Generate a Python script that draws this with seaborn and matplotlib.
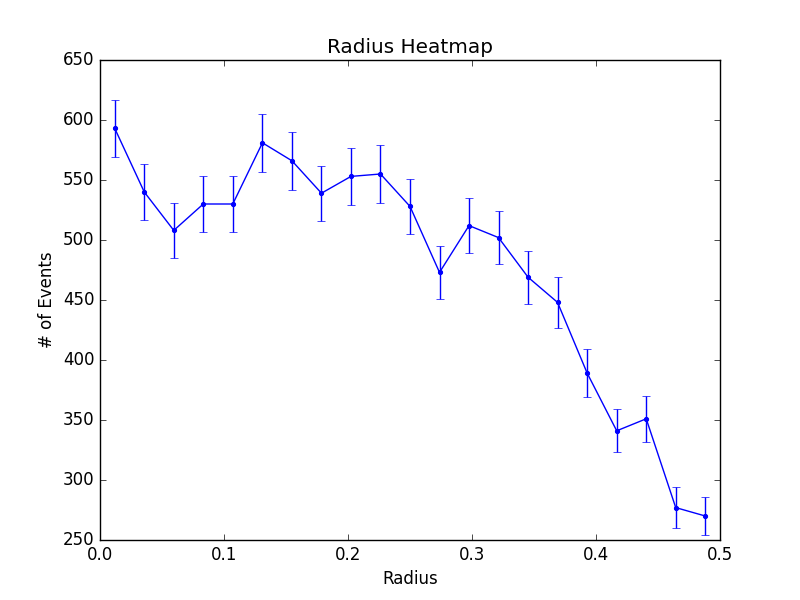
import matplotlib
matplotlib.use("Agg")
import matplotlib.pyplot as plt
import pandas as pd
import seaborn as sns

# bin centres (21 bins over 0..0.5) and counts
radius = [0.0119, 0.0357, 0.0595, 0.0833, 0.1071, 0.1310, 0.1548,
          0.1786, 0.2024, 0.2262, 0.2500, 0.2738, 0.2976, 0.3214,
          0.3452, 0.3690, 0.3929, 0.4167, 0.4405, 0.4643, 0.4881]
events = [593, 540, 508, 530, 530, 581, 566, 539, 553, 555, 528,
          473, 512, 502, 469, 448, 389, 341, 351, 277, 270]
errors = [24, 23, 23, 23, 23, 24, 24, 23, 24, 24, 23,
          22, 23, 22, 22, 21, 20, 18, 19, 17, 16]

df = pd.DataFrame({"Radius": radius, "Events": events, "err": errors})

plt.style.use("classic")
fig, ax = plt.subplots(figsize=(8, 6), dpi=100)

sns.lineplot(data=df, x="Radius", y="Events", color="b", marker=".",
             markersize=6, markeredgecolor="b", linewidth=1, ax=ax)
ax.errorbar(df["Radius"], df["Events"], yerr=df["err"], fmt="none",
            ecolor="b", capsize=3, elinewidth=1)

ax.set_xlim(0, 0.5)
ax.set_ylim(250, 650)
ax.set_title("Radius Heatmap")
ax.set_xlabel("Radius")
ax.set_ylabel("# of Events")

fig.savefig("out.png", dpi=100)
plt.close(fig)
